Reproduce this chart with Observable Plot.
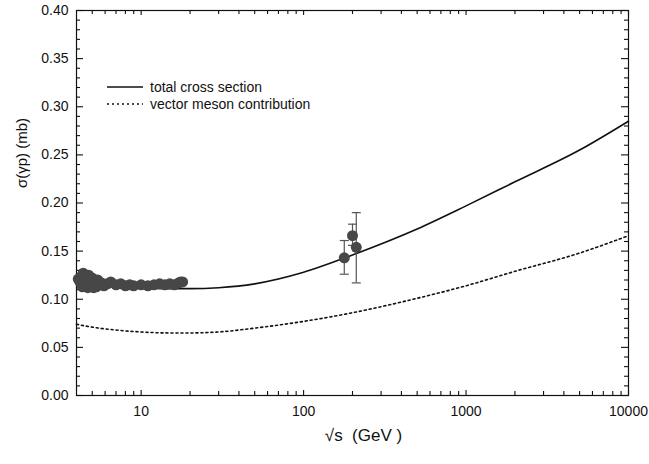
<!DOCTYPE html>
<html><head><meta charset="utf-8">
<script src="https://cdn.jsdelivr.net/npm/d3@7"></script>
<script src="https://cdn.jsdelivr.net/npm/@observablehq/plot@0.6"></script>
<style>
body{margin:0;background:#fff}
#chart{width:649px;height:464px}
</style>
</head><body><div id="chart"></div>
<script>
// model curves: sqrt(s) in GeV, sigma in mb
const curveS      = [4, 5, 7, 10, 15, 20, 30, 50, 100, 200, 500, 1000, 2000, 5000, 10000];
const totalSigma  = [0.118, 0.116, 0.114, 0.112, 0.111, 0.111, 0.112, 0.116, 0.128, 0.146, 0.173, 0.197, 0.222, 0.255, 0.285];
const vectorSigma = [0.074, 0.071, 0.068, 0.066, 0.065, 0.065, 0.066, 0.070, 0.077, 0.086, 0.101, 0.114, 0.129, 0.148, 0.166];

// low energy data
const lowS     = [4.1, 4.2, 4.3, 4.35, 4.4, 4.5, 4.6, 4.7, 4.75, 4.8, 4.9, 5.0, 5.1, 5.2, 5.3, 5.4, 5.5, 5.7, 5.9, 6.2, 6.5, 7.0, 7.5, 8.0, 8.5, 9.0, 10, 11, 12, 13, 14, 15, 16, 17, 17.5, 18];
const lowSigma = [0.121, 0.118, 0.124, 0.113, 0.127, 0.122, 0.117, 0.112, 0.125, 0.120, 0.116, 0.122, 0.112, 0.118, 0.113, 0.120, 0.116, 0.117, 0.114, 0.116, 0.118, 0.115, 0.116, 0.114, 0.115, 0.114, 0.115, 0.114, 0.115, 0.116, 0.115, 0.116, 0.115, 0.117, 0.118, 0.118];

// HERA data with errors
const heraS     = [178, 200, 211];
const heraSigma = [0.143, 0.166, 0.154];
const heraLo    = [0.126, 0.156, 0.117];
const heraHi    = [0.161, 0.178, 0.190];

const xMajor = [10, 100, 1000, 10000];
const xMinor = [5,6,7,8,9,20,30,40,50,60,70,80,90,200,300,400,500,600,700,800,900,2000,3000,4000,5000,6000,7000,8000,9000];
const yMajor = [0, 0.05, 0.10, 0.15, 0.20, 0.25, 0.30, 0.35, 0.40];
const yMinor = d3.range(0, 41).map(i => i / 100).filter(v => Math.round(v * 100) % 5 !== 0);

const legendLabels = ["total cross section", "vector meson contribution"];

const curves = curveS.map((s, i) => ({s, total: totalSigma[i], vector: vectorSigma[i]}));
const low = lowS.map((s, i) => ({s, v: lowSigma[i]}));
const hera = heraS.map((s, i) => ({s, v: heraSigma[i], lo: heraLo[i], hi: heraHi[i]}));

const W = 649, H = 464, mL = 76, mR = 21, mT = 10, mB = 69;
const xDom = [4, 10000], yDom = [0, 0.4];
const innerW = W - mL - mR, innerH = H - mT - mB;
// tick lengths converted from pixels to scale units
const yPx = px => (yDom[1] - yDom[0]) * px / innerH;
const xFac = px => Math.pow(xDom[1] / xDom[0], px / innerW);

const capSymbol = {draw(ctx, size) { const r = Math.sqrt(size / Math.PI); ctx.moveTo(-r, 0); ctx.lineTo(r, 0); }};
const tickStyle = {stroke: "#111", strokeWidth: 1.1};

const xTickMarks = (vals, px) => [
  Plot.ruleX(vals, {x: d => d, y1: yDom[0], y2: yDom[0] + yPx(px), ...tickStyle}),
  Plot.ruleX(vals, {x: d => d, y1: yDom[1], y2: yDom[1] - yPx(px), ...tickStyle})
];
const yTickMarks = (vals, px) => [
  Plot.ruleY(vals, {y: d => d, x1: xDom[0], x2: xDom[0] * xFac(px), ...tickStyle}),
  Plot.ruleY(vals, {y: d => d, x1: xDom[1], x2: xDom[1] / xFac(px), ...tickStyle})
];

const chart = Plot.plot({
  width: W, height: H,
  marginLeft: mL, marginRight: mR, marginTop: mT, marginBottom: mB,
  style: {fontFamily: "'Liberation Sans', Arial, sans-serif", fontSize: "14px", color: "#111", background: "#fff"},
  x: {type: "log", domain: xDom},
  y: {domain: yDom},
  marks: [
    Plot.axisX({ticks: xMajor, tickSize: 0, tickPadding: 11, tickFormat: d3.format("d"), label: null, fontSize: 14}),
    Plot.axisY({ticks: yMajor, tickSize: 0, tickPadding: 8, tickFormat: d3.format(".2f"), label: null, fontSize: 14}),
    ...xTickMarks(xMajor, 5), ...xTickMarks(xMinor, 4),
    ...yTickMarks(yMajor, 7), ...yTickMarks(yMinor, 4),
    Plot.frame({stroke: "#111", strokeWidth: 1.2, fill: "none"}),
    Plot.line(curves, {x: "s", y: "total", stroke: "#111", strokeWidth: 1.6, curve: "monotone-x"}),
    Plot.line(curves, {x: "s", y: "vector", stroke: "#111", strokeWidth: 1.6, strokeDasharray: "2,3", curve: "monotone-x"}),
    Plot.ruleX(hera, {x: "s", y1: "lo", y2: "hi", stroke: "#555", strokeWidth: 1.2}),
    Plot.dot(hera, {x: "s", y: "lo", symbol: capSymbol, r: 4.5, stroke: "#555", strokeWidth: 1.2, fill: "none"}),
    Plot.dot(hera, {x: "s", y: "hi", symbol: capSymbol, r: 4.5, stroke: "#555", strokeWidth: 1.2, fill: "none"}),
    Plot.dot(low, {x: "s", y: "v", r: 5.5, fill: "#474747", stroke: "none"}),
    Plot.dot(hera, {x: "s", y: "v", r: 5.5, fill: "#474747", stroke: "none"}),
    Plot.text(["σ(γp) (mb)"], {frameAnchor: "left", dx: -54, dy: -15, rotate: -90, fontSize: 15, fill: "#111"}),
    Plot.text(["√s  (GeV )"], {frameAnchor: "bottom", dx: 11, dy: 45, fontSize: 17, fill: "#111"})
  ]
});
document.getElementById("chart").append(chart);

// legend inside the frame
const svgSel = d3.select(chart.tagName.toLowerCase() === "svg" ? chart : chart.querySelector("svg"));
const lg = svgSel.append("g");
[87, 104].forEach((y, i) => {
  lg.append("line").attr("x1", 107).attr("x2", 143).attr("y1", y).attr("y2", y)
    .attr("stroke", "#111").attr("stroke-width", 1.4)
    .attr("stroke-dasharray", i ? "2,3" : null);
  lg.append("text").attr("x", 150).attr("y", y).attr("dy", "0.35em")
    .attr("text-anchor", "start").attr("font-size", 14).attr("fill", "#111")
    .text(legendLabels[i]);
});
</script>
</body></html>
